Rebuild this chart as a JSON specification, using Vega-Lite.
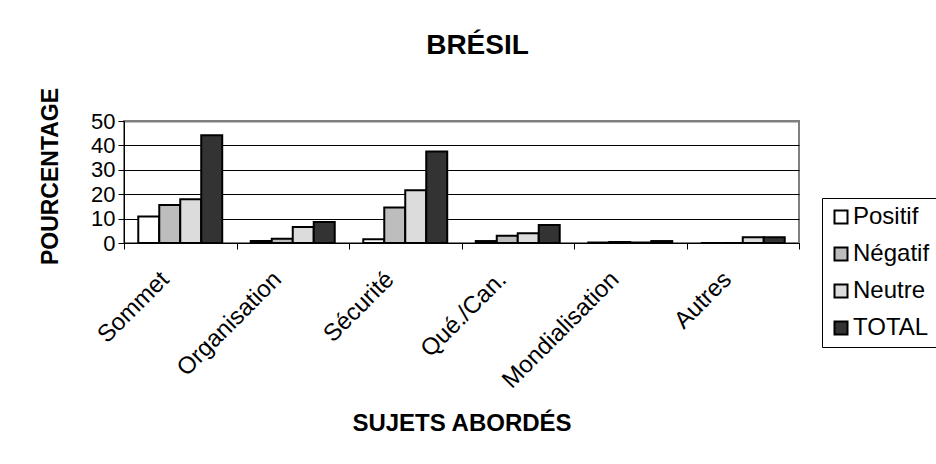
{
  "$schema": "https://vega.github.io/schema/vega-lite/v6.json",
  "width": 675,
  "height": 122,
  "autosize": {"type": "none"},
  "padding": {"left": 124, "top": 121, "right": 137, "bottom": 221},
  "background": "white",
  "title": {
    "text": "BRÉSIL",
    "fontSize": 28,
    "font": "Liberation Sans",
    "fontWeight": "bold",
    "color": "black",
    "anchor": "middle",
    "frame": "group",
    "baseline": "alphabetic",
    "dx": 16,
    "offset": 5
  },
  "data": {
    "values": [
      {"sujet": "Sommet", "serie": "Positif", "pct": 10.9},
      {"sujet": "Sommet", "serie": "Négatif", "pct": 15.6},
      {"sujet": "Sommet", "serie": "Neutre", "pct": 17.9},
      {"sujet": "Sommet", "serie": "TOTAL", "pct": 44.2},
      {"sujet": "Organisation", "serie": "Positif", "pct": 0.8},
      {"sujet": "Organisation", "serie": "Négatif", "pct": 1.7},
      {"sujet": "Organisation", "serie": "Neutre", "pct": 6.6},
      {"sujet": "Organisation", "serie": "TOTAL", "pct": 8.6},
      {"sujet": "Sécurité", "serie": "Positif", "pct": 1.5},
      {"sujet": "Sécurité", "serie": "Négatif", "pct": 14.6},
      {"sujet": "Sécurité", "serie": "Neutre", "pct": 21.6},
      {"sujet": "Sécurité", "serie": "TOTAL", "pct": 37.5},
      {"sujet": "Qué./Can.", "serie": "Positif", "pct": 0.8},
      {"sujet": "Qué./Can.", "serie": "Négatif", "pct": 3.0},
      {"sujet": "Qué./Can.", "serie": "Neutre", "pct": 4.0},
      {"sujet": "Qué./Can.", "serie": "TOTAL", "pct": 7.4},
      {"sujet": "Mondialisation", "serie": "Positif", "pct": 0.2},
      {"sujet": "Mondialisation", "serie": "Négatif", "pct": 0.4},
      {"sujet": "Mondialisation", "serie": "Neutre", "pct": 0.2},
      {"sujet": "Mondialisation", "serie": "TOTAL", "pct": 0.8},
      {"sujet": "Autres", "serie": "Positif", "pct": 0},
      {"sujet": "Autres", "serie": "Négatif", "pct": 0},
      {"sujet": "Autres", "serie": "Neutre", "pct": 2.4},
      {"sujet": "Autres", "serie": "TOTAL", "pct": 2.4}
    ]
  },
  "mark": {"type": "bar", "stroke": "black", "strokeWidth": 2},
  "encoding": {
    "x": {
      "field": "sujet",
      "type": "nominal",
      "sort": ["Sommet", "Organisation", "Sécurité", "Qué./Can.", "Mondialisation", "Autres"],
      "scale": {"paddingInner": 0, "paddingOuter": 0},
      "axis": {
        "title": "SUJETS ABORDÉS",
        "titleFont": "Liberation Sans",
        "titleFontSize": 24,
        "titleFontWeight": "bold",
        "titleColor": "black",
        "titlePadding": 19,
        "labelAngle": -45,
        "labelFont": "Liberation Sans",
        "labelFontSize": 24,
        "labelColor": "black",
        "labelOverlap": false,
        "labelLimit": 300,
        "labelPadding": 18,
        "labelOffset": -24,
        "tickBand": "extent",
        "tickSize": 6,
        "tickColor": "black",
        "domainColor": "black",
        "grid": false
      }
    },
    "xOffset": {
      "field": "serie",
      "type": "nominal",
      "sort": ["Positif", "Négatif", "Neutre", "TOTAL"],
      "scale": {"paddingInner": 0, "paddingOuter": 0.68}
    },
    "y": {
      "field": "pct",
      "type": "quantitative",
      "scale": {"domain": [0, 50], "nice": false},
      "axis": {
        "title": "POURCENTAGE",
        "titleFont": "Liberation Sans",
        "titleFontSize": 23,
        "titleFontWeight": "bold",
        "titleColor": "black",
        "titlePadding": 28,
        "titleY": 55,
        "values": [0, 10, 20, 30, 40, 50],
        "labelFont": "Liberation Sans",
        "labelFontSize": 22,
        "labelColor": "black",
        "labelPadding": 3,
        "tickSize": 6,
        "tickColor": "black",
        "domainColor": "black",
        "grid": true,
        "gridColor": {"condition": {"test": "datum.value === 50", "value": "#808080"}, "value": "black"},
        "gridWidth": {"condition": {"test": "datum.value === 50", "value": 2}, "value": 1}
      }
    },
    "color": {
      "field": "serie",
      "type": "nominal",
      "sort": ["Positif", "Négatif", "Neutre", "TOTAL"],
      "scale": {
        "domain": ["Positif", "Négatif", "Neutre", "TOTAL"],
        "range": ["#ffffff", "#bdbdbd", "#dcdcdc", "#333333"]
      },
      "legend": {
        "title": null,
        "orient": "none",
        "legendX": 698,
        "legendY": 77,
        "strokeColor": "black",
        "padding": 7,
        "labelFont": "Liberation Sans",
        "labelFontSize": 24,
        "labelColor": "black",
        "labelOffset": 0,
        "symbolType": "square",
        "symbolSize": 169,
        "symbolStrokeColor": "black",
        "symbolStrokeWidth": 2,
        "symbolOpacity": 1,
        "rowPadding": 13
      }
    }
  },
  "config": {
    "view": {"stroke": "#808080", "strokeWidth": 2},
    "font": "Liberation Sans"
  }
}
